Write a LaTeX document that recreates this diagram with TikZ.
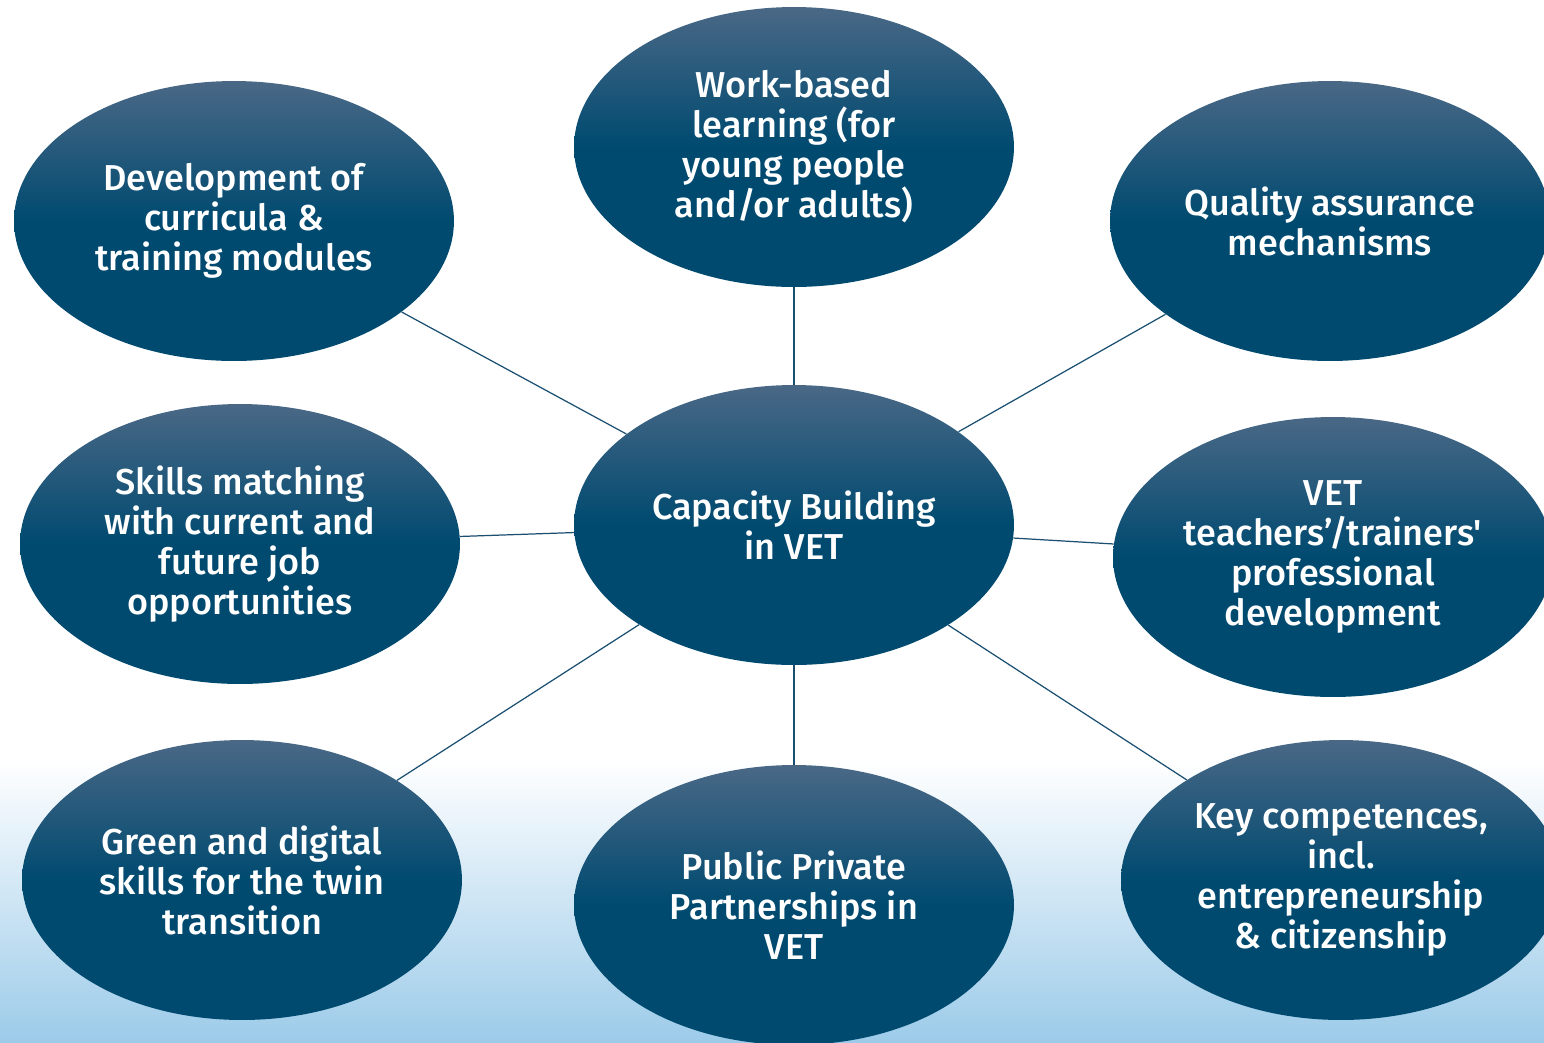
\documentclass[tikz,border=0pt]{standalone}
\usepackage{fontspec}
\setmainfont{Fira Sans}[UprightFont=* Medium, Ligatures=TeXOff]
\usetikzlibrary{shapes.geometric}
\definecolor{bubbletop}{HTML}{4A6886}
\definecolor{bubblebot}{HTML}{004A70}
\definecolor{linkblue}{HTML}{1B4F72}
\definecolor{skyblue}{HTML}{9CCBE9}

\begin{document}
\begin{tikzpicture}[x=0.02cm, y=-0.02cm, font=\fontsize{20.5}{22.8}\selectfont,
        bubble/.style={ellipse, minimum width=8.8cm, minimum height=5.6cm, inner sep=0pt,
            top color=bubbletop, bottom color=bubblebot, middle color=bubblebot,
            text=white, align=center},
        link/.style={draw=linkblue, line width=0.7pt}]
        % page and background fade
        \useasboundingbox (0,0) rectangle (1544,1042);
        \clip (0,0) rectangle (1544,1042);
        \shade[top color=white, bottom color=skyblue] (0,760) rectangle (1544,1042);
        % bubbles
        \node[bubble] (cap) at (794,525) {Capacity Building\\in VET};
        \node[bubble] (work) at (794,147) {Work-based\\learning (for\\young people\\and/or adults)};
        \node[bubble] (curr) at (234,221) {Development of\\curricula \&\\training modules};
        \node[bubble] (qual) at (1330,221) {Quality assurance\\mechanisms};
        \node[bubble] (skill) at (240,544) {Skills matching\\with current and\\future job\\opportunities};
        \node[bubble] (teach) at (1333,557) {VET\\teachers’/trainers'\\professional\\development};
        \node[bubble] (green) at (242,880) {Green and digital\\skills for the twin\\transition};
        \node[bubble] (ppp) at (794,905) {Public Private\\Partnerships in\\VET};
        \node[bubble] (key) at (1341,880) {Key competences,\\incl.\\entrepreneurship\\\& citizenship};
        % links to the centre
        \foreach \n in {work,curr,qual,skill,teach,green,ppp,key} \draw[link] (cap) -- (\n);
    \end{tikzpicture}
\end{document}
